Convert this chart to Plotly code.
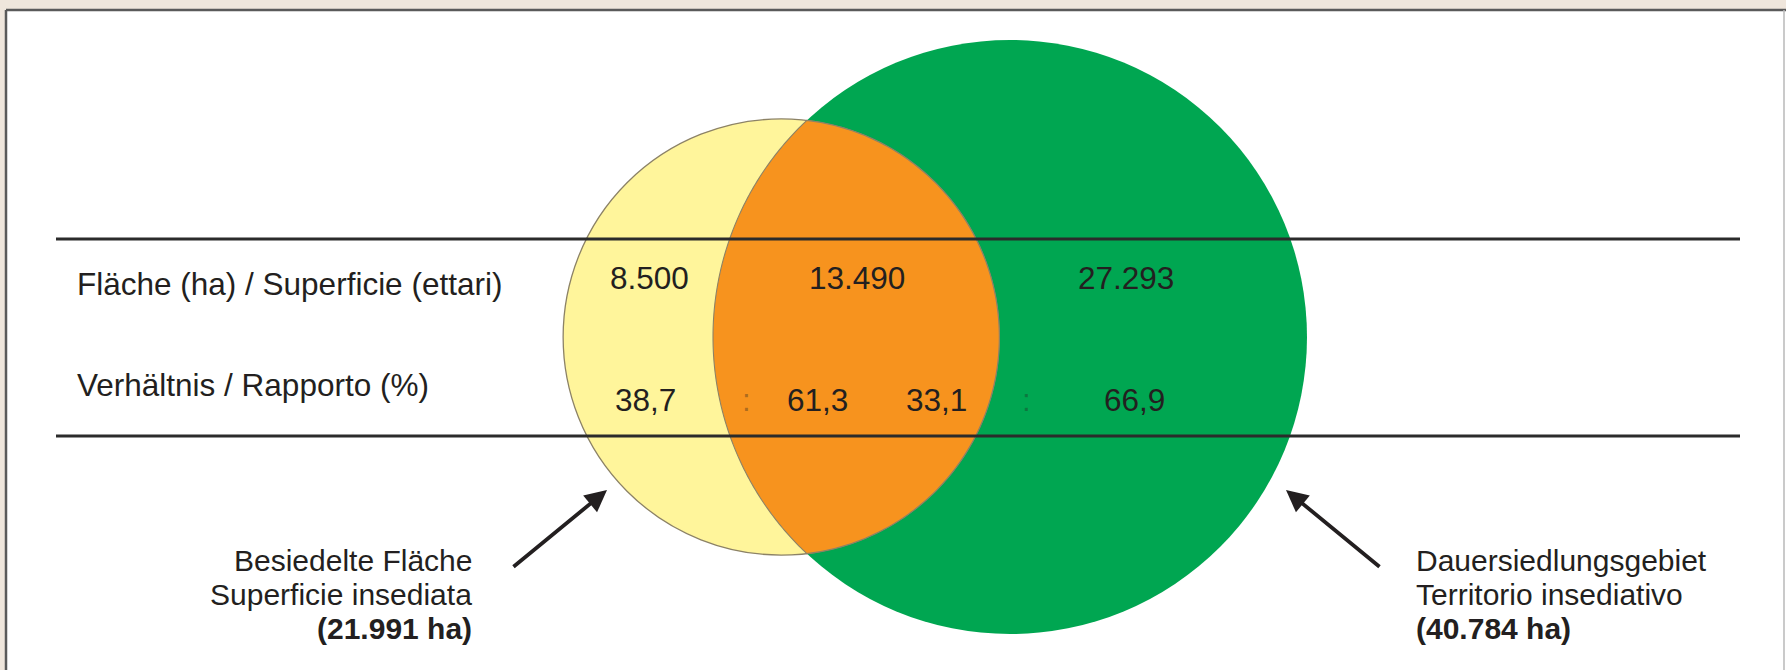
import math
import numpy as np
import plotly.graph_objects as go

# ---------------------------------------------------------------- data
row_labels = ["Fläche (ha) / Superficie (ettari)", "Verhältnis / Rapporto (%)"]
# settled area outside the permanent settlement area, overlap, permanent settlement area only
area_ha = [8500, 13490, 27293]
settled_total_ha = 21991
permanent_total_ha = 40784
share_settled_pct = [38.7, 61.3]      # share of settled area: outside / inside
share_permanent_pct = [33.1, 66.9]    # share of permanent settlement area: settled / not settled
settled_label = ["Besiedelte Fläche", "Superficie insediata"]
permanent_label = ["Dauersiedlungsgebiet", "Territorio insediativo"]

# ---------------------------------------------------------------- layout
W, H = 1786, 670
R_BIG = 297                 # radius of the permanent-settlement circle (px)
BIG_CX, BIG_CY = 1010, 337  # its centre
TILT = math.radians(0.0)    # direction from the small to the big circle centre
TABLE_TOP, TABLE_BOTTOM = 239, 436
ROW_LABEL_Y = [284, 385]
ROW_VALUE_Y = [278, 400]
ROW_LABEL_X = 75

FONT = "Liberation Sans, Arial, sans-serif"
FS = 31.5
CAP_FS = 30
INK = "#231F20"
YELLOW, ORANGE, GREEN = "#FFF59B", "#F7931E", "#00A651"
EDGE = "#8C8266"
BEIGE = "#EFE6DC"


def fmt_int(v):
    return f"{v:,}".replace(",", ".")


def fmt_pct(v):
    return f"{v:.1f}".replace(".", ",")


def lens_area(r1, r2, d):
    if d >= r1 + r2:
        return 0.0
    if d <= abs(r1 - r2):
        return math.pi * min(r1, r2) ** 2
    a1 = r1 ** 2 * math.acos((d * d + r1 * r1 - r2 * r2) / (2 * d * r1))
    a2 = r2 ** 2 * math.acos((d * d + r2 * r2 - r1 * r1) / (2 * d * r2))
    a3 = 0.5 * math.sqrt((-d + r1 + r2) * (d + r1 - r2) * (d - r1 + r2) * (d + r1 + r2))
    return a1 + a2 - a3


# area-proportional circles; centre distance chosen so the overlap area matches
r_small = R_BIG * math.sqrt(settled_total_ha / permanent_total_ha)
target = area_ha[1] / settled_total_ha * math.pi * r_small ** 2
lo, hi = abs(R_BIG - r_small) + 1e-6, R_BIG + r_small
for _ in range(80):
    mid = 0.5 * (lo + hi)
    if lens_area(r_small, R_BIG, mid) > target:
        lo = mid
    else:
        hi = mid
dist = 0.5 * (lo + hi)
ux, uy = math.cos(TILT), math.sin(TILT)
SMALL_CX, SMALL_CY = BIG_CX - dist * ux, BIG_CY - dist * uy

# overlap region, built in a local frame (x along the centre line) and rotated
a = (dist ** 2 + r_small ** 2 - R_BIG ** 2) / (2 * dist)
h = math.sqrt(r_small ** 2 - a ** 2)
th1 = math.atan2(h, a)
th2 = math.atan2(h, dist - a)
t_small = np.linspace(-th1, th1, 180)
t_big = np.linspace(math.pi - th2, math.pi + th2, 180)
lx = np.concatenate([r_small * np.cos(t_small), dist + R_BIG * np.cos(t_big)])
ly = np.concatenate([r_small * np.sin(t_small), R_BIG * np.sin(t_big)])
xs = SMALL_CX + lx * ux - ly * uy
ys = SMALL_CY + lx * uy + ly * ux
lens_path = "M " + " L ".join(f"{x:.2f},{y:.2f}" for x, y in zip(xs, ys)) + " Z"

shapes = [
    # framed white panel
    dict(type="rect", x0=6, y0=10, x1=W + 5, y1=H + 5, fillcolor="white", line=dict(width=0)),
    dict(type="line", x0=6, y0=10, x1=W, y1=10, line=dict(color="#5A5A5A", width=2.5)),
    dict(type="line", x0=6, y0=10, x1=6, y1=H, line=dict(color="#5A5A5A", width=2.5)),
    dict(type="line", x0=W - 2, y0=10, x1=W - 2, y1=H, line=dict(color="#B8B8B8", width=1.5)),
    # circles
    dict(type="circle", x0=BIG_CX - R_BIG, x1=BIG_CX + R_BIG, y0=BIG_CY - R_BIG, y1=BIG_CY + R_BIG,
         fillcolor=GREEN, line=dict(width=0)),
    dict(type="circle", x0=SMALL_CX - r_small, x1=SMALL_CX + r_small,
         y0=SMALL_CY - r_small, y1=SMALL_CY + r_small, fillcolor=YELLOW,
         line=dict(color=EDGE, width=1.3)),
    dict(type="path", path=lens_path, fillcolor=ORANGE, line=dict(color=EDGE, width=1.1)),
    # table rules
    dict(type="line", x0=56, x1=1740, y0=TABLE_TOP, y1=TABLE_TOP, line=dict(color="#2B2B2B", width=3)),
    dict(type="line", x0=56, x1=1740, y0=TABLE_BOTTOM, y1=TABLE_BOTTOM, line=dict(color="#2B2B2B", width=3)),
]

ann = []


def txt(x, y, s, anchor="center", color=INK, bold=False, size=FS):
    ann.append(dict(x=x, y=y, xref="x", yref="y", text=f"<b>{s}</b>" if bold else s,
                    showarrow=False, xanchor=anchor, yanchor="middle",
                    font=dict(family=FONT, size=size, color=color)))


# row headings
for lbl, yy in zip(row_labels, ROW_LABEL_Y):
    txt(ROW_LABEL_X, yy, lbl, anchor="left")

# areas
value_x = [649, 857, 1126]
for v, xx in zip(area_ha, value_x):
    txt(xx, ROW_VALUE_Y[0], fmt_int(v))

# ratios
faint = "rgba(35,31,32,0.35)"
txt(645, ROW_VALUE_Y[1], fmt_pct(share_settled_pct[0]))
txt(746, ROW_VALUE_Y[1], ":", color=faint)
txt(817, ROW_VALUE_Y[1], fmt_pct(share_settled_pct[1]))
txt(936, ROW_VALUE_Y[1], fmt_pct(share_permanent_pct[0]))
txt(1026, ROW_VALUE_Y[1], ":", color=faint)
txt(1134, ROW_VALUE_Y[1], fmt_pct(share_permanent_pct[1]))

# circle captions
cap_y = [560, 594, 628]
txt(474, cap_y[0], settled_label[0], anchor="right", size=CAP_FS)
txt(474, cap_y[1], settled_label[1], anchor="right", size=CAP_FS)
txt(474, cap_y[2], f"({fmt_int(settled_total_ha)} ha)", anchor="right", bold=True, size=CAP_FS)
txt(1414, cap_y[0], permanent_label[0], anchor="left", size=CAP_FS)
txt(1414, cap_y[1], permanent_label[1], anchor="left", size=CAP_FS)
txt(1414, cap_y[2], f"({fmt_int(permanent_total_ha)} ha)", anchor="left", bold=True, size=CAP_FS)

# pointer arrows
for (hx, hy), (tx, ty) in [((607, 490), (512, 568)), ((1286, 490), (1381, 568))]:
    ann.append(dict(x=hx, y=hy, ax=tx, ay=ty, xref="x", yref="y", axref="x", ayref="y",
                    text="", showarrow=True, arrowhead=2, arrowsize=1.15, arrowwidth=3.8,
                    arrowcolor=INK, standoff=0))

fig = go.Figure()
fig.update_layout(
    width=W, height=H, autosize=False,
    margin=dict(l=0, r=0, t=0, b=0),
    paper_bgcolor=BEIGE, plot_bgcolor=BEIGE,
    xaxis=dict(range=[0, W], visible=False, fixedrange=True),
    yaxis=dict(range=[H, 0], visible=False, fixedrange=True),
    shapes=shapes, annotations=ann, showlegend=False,
)
fig.write_html("out.html", config={"displayModeBar": False})
